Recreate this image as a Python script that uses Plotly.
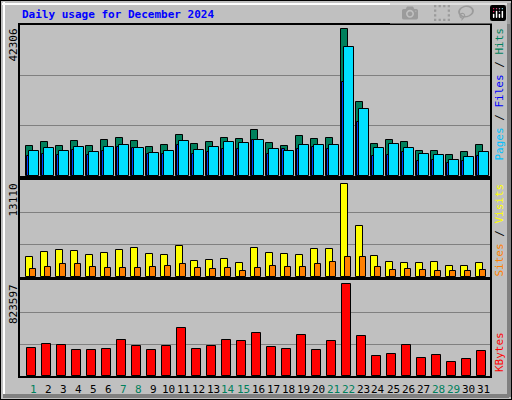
import plotly.graph_objects as go

days = list(range(1, 32))
weekend = [1, 7, 8, 14, 15, 21, 22, 28, 29]

hits = [8634, 9785, 8634, 10073, 8634, 10361, 10936, 10073, 8346, 8922, 11800, 9210, 9785, 10936, 10649,
        13239, 9497, 8634, 11512, 10649, 10936, 42306, 21297, 9210, 10361, 9785, 7195, 7195, 6044, 6907, 8922]
pages = [7195, 8058, 7195, 8346, 6907, 8346, 8922, 8058, 6619, 7195, 10073, 7483, 8346, 9785, 9497,
         10361, 7771, 7195, 8922, 8922, 8922, 37126, 19283, 8058, 9210, 8058, 6332, 6044, 4605, 5468, 6907]
files = [5756, 6332, 6044, 7483, 6044, 7195, 8346, 8058, 6332, 6332, 8922, 6332, 6907, 7771, 7771,
         10361, 6332, 7771, 7771, 8346, 7771, 27053, 15541, 5756, 6044, 6907, 4317, 4605, 3741, 4317, 5756]
visits = [2745, 3455, 3739, 3597, 3029, 3313, 3739, 4023, 3171, 3029, 4307, 2319, 2461, 2603, 2035,
          4023, 3313, 3171, 3029, 3881, 3881, 13110, 7147, 2887, 2177, 2035, 2035, 2177, 1609, 1609, 2035]
sites = [1183, 1467, 1893, 1893, 1467, 1325, 1325, 1325, 1467, 1609, 1893, 1325, 1183, 1325, 899,
         1325, 1609, 1467, 1467, 1893, 2177, 2745, 2745, 1467, 1041, 1183, 1041, 899, 899, 899, 1041]
kbytes = [246476, 282545, 273528, 228441, 228441, 237458, 318615, 264511, 228441, 264511, 426824,
          237458, 264511, 318615, 309598, 381737, 255493, 237458, 363702, 228441, 309598, 823597,
          354684, 183354, 201389, 273528, 165319, 192372, 129249, 156302, 219424]

BG = '#C0C0C0'
mono = 'DejaVu Sans Mono'


def bars(vals, off, w, color, ax):
    return go.Bar(x=[d + off for d in days], y=vals, width=w, marker=dict(color=color, line=dict(color='black', width=1)),
                  xaxis='x' + ax, yaxis='y' + ax, showlegend=False, hoverinfo='skip')


fig = go.Figure()
fig.add_trace(bars(hits, -0.23, 0.5, '#00805C', ''))
fig.add_trace(bars(files, -0.3, 0.18, '#0040FF', ''))
fig.add_trace(bars(pages, 0.07, 0.62, '#00E0FF', ''))
fig.add_trace(bars(visits, -0.23, 0.52, '#FFFF00', '2'))
fig.add_trace(bars(sites, 0.0, 0.45, '#FF8000', '2'))
fig.add_trace(bars(kbytes, -0.12, 0.62, '#FF0000', '3'))

xr = [0.133, 31.47]
xax = dict(range=xr, domain=[20 / 512, 490 / 512], showticklabels=False, showgrid=False, zeroline=False,
           showline=True, linecolor='black', linewidth=2, mirror=True, fixedrange=True)


def yax(vmax, frac, dom):
    top = vmax / frac
    return dict(range=[0, top], domain=dom, tickvals=[top / 3, 2 * top / 3], showticklabels=False,
                gridcolor='#808080', gridwidth=1, zeroline=False, showline=True, linecolor='black',
                linewidth=2, mirror=True, fixedrange=True)


fig.update_layout(
    width=512, height=400, margin=dict(l=0, r=0, t=0, b=0),
    paper_bgcolor=BG, plot_bgcolor=BG, barmode='overlay', bargap=0,
    xaxis=dict(xax, anchor='y'), xaxis2=dict(xax, anchor='y2'), xaxis3=dict(xax, anchor='y3'),
    yaxis=yax(max(hits), 147 / 151, [0.56, 0.9375]),
    yaxis2=yax(max(visits), 92.7 / 96.5, [0.3075, 0.55]),
    yaxis3=yax(max(kbytes), 91.5 / 95.5, [0.06, 0.3]),
)

ann = [dict(text='<b>Daily usage for December 2024</b>', x=20, y=15, font=dict(family=mono, size=11, color='#0000FF'),
            xanchor='left')]
for lab, y in [(max(hits), 27), (max(visits), 182), (max(kbytes), 282)]:
    ann.append(dict(text=str(lab), x=13, y=y, textangle=-90, yanchor='top', font=dict(family=mono, size=11, color='black')))
ann.append(dict(text="<span style='color:#00C0FF'>Pages</span> / <span style='color:#0000FF'>Files</span> / "
                     "<span style='color:#00805C'>Hits</span>", x=499, y=26, yanchor='top', textangle=-90,
                font=dict(family=mono, size=11, color='black')))
ann.append(dict(text="<span style='color:#FF8000'>Sites</span> / <span style='color:#FFFF00'>Visits</span>",
                x=499, y=182, yanchor='top', textangle=-90, font=dict(family=mono, size=11, color='black')))
ann.append(dict(text='KBytes', x=499, y=330, yanchor='top', textangle=-90, font=dict(family=mono, size=11, color='#FF0000')))
for d in days:
    ann.append(dict(text=str(d), x=33 + 15 * (d - 1), y=389,
                    font=dict(family=mono, size=11, color='#00805C' if d in weekend else 'black')))
for a in ann:
    a.update(xref='paper', yref='paper', showarrow=False)
    a['x'] = a['x'] / 512
    a['y'] = 1 - a['y'] / 400
    a.setdefault('xanchor', 'center')
    a.setdefault('yanchor', 'middle')
fig.update_layout(annotations=ann)

# bevelled frame
px = lambda x0, y0, x1, y1, c, w: dict(type='line', xref='paper', yref='paper', x0=x0 / 512, y0=1 - y0 / 400,
                                         x1=x1 / 512, y1=1 - y1 / 400, line=dict(color=c, width=w))
fig.update_layout(shapes=[
    dict(type='rect', xref='paper', yref='paper', x0=0, y0=0, x1=1, y1=1, line=dict(color='black', width=2)),
    px(2, 4, 507, 4, 'white', 2), px(4, 2, 4, 396, 'white', 2),
    px(509, 3, 509, 397, '#808080', 4), px(3, 396, 509, 396, '#808080', 4),
])

fig.write_html("out.html", post_script="document.body.style.margin='0';document.body.style.overflow='hidden';")
